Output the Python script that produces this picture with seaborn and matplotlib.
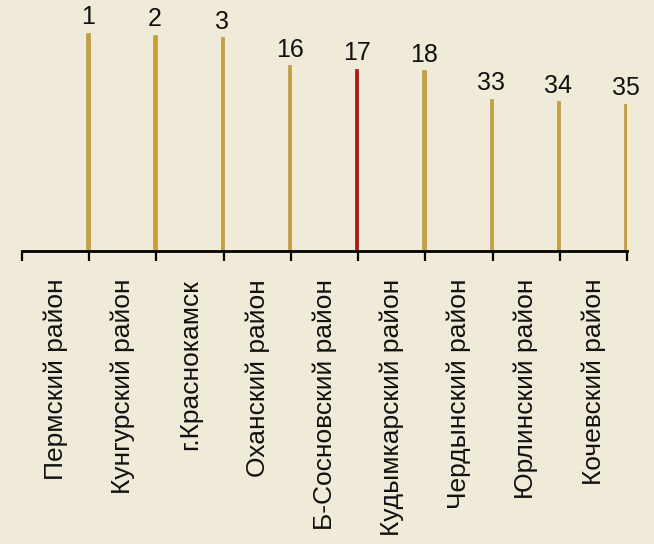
import numpy as np
import pandas as pd
import matplotlib
matplotlib.use("Agg")
import matplotlib.pyplot as plt
import seaborn as sns

districts = [
    "Пермский район", "Кунгурский район", "г.Краснокамск", "Оханский район",
    "Б-Сосновский район", "Кудымкарский район", "Чердынский район",
    "Юрлинский район", "Кочевский район",
]
ranks = ["1", "2", "3", "16", "17", "18", "33", "34", "35"]
scores = [218.4, 216.4, 214.0, 185.7, 182.4, 180.7, 152.4, 150.0, 147.4]
highlight = "Б-Сосновский район"

bg = "#EFEBD8"
gold = "#C9A030"
red = "#B3161B"

sns.set_theme(style="white")
plt.rcParams["font.family"] = ["Liberation Sans", "DejaVu Sans"]

df = pd.DataFrame({"district": districts, "score": scores})
# bars sit at the right edge of each category slot
df["pos"] = np.arange(len(df)) + 0.48

fig = plt.figure(figsize=(6.54, 5.44), dpi=100, facecolor=bg)
ax = fig.add_axes([22 / 654, 293 / 544, 605 / 654, 251 / 544])
ax.set_facecolor(bg)

sns.barplot(data=df, x="pos", y="score", native_scale=True, width=0.05,
            color=gold, edgecolor="#B49A5A", linewidth=0.5, saturation=1, ax=ax)
for patch, name in zip(ax.patches, df["district"]):
    if name == highlight:
        patch.set_facecolor(red)
        patch.set_edgecolor("#8E1A1A")

ax.bar_label(ax.containers[0], labels=ranks, padding=2.5, fontsize=18, color="#111111")

ax.set_xlim(-0.5, len(df) - 0.5)
ax.set_ylim(0, 251)

ax.set_xticks(np.arange(-0.5, len(df)), labels=[""] * (len(df) + 1))
ax.set_xticks(np.arange(len(df)), labels=districts, minor=True)
ax.tick_params(axis="x", which="major", direction="out", length=7, width=1.6,
               color="black", bottom=True)
ax.tick_params(axis="x", which="minor", length=0, pad=20, labelsize=19,
               labelrotation=90, labelcolor="#111111")
ax.set_yticks([])
ax.set_xlabel("")
ax.set_ylabel("")

for side in ["top", "left", "right"]:
    ax.spines[side].set_visible(False)
ax.spines["bottom"].set_linewidth(2)
ax.spines["bottom"].set_color("black")

fig.savefig("out.png", dpi=100, facecolor=bg)
